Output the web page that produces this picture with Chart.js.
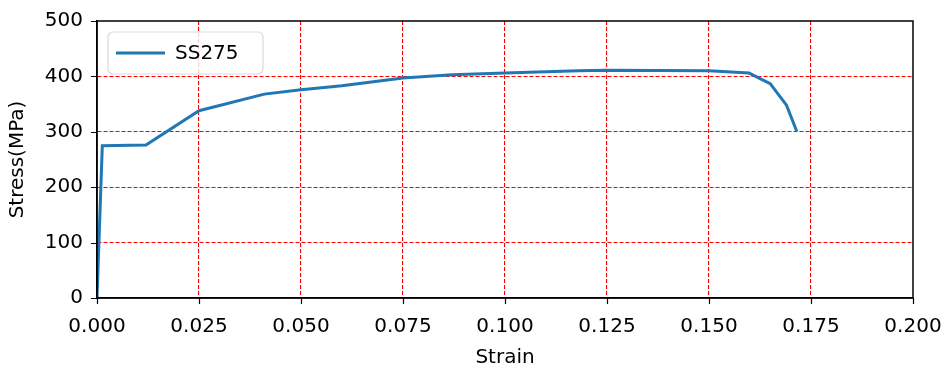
<!DOCTYPE html>
<html>
<head>
<meta charset="utf-8">
<script src="https://cdn.jsdelivr.net/npm/chart.js@4.4.1/dist/chart.umd.min.js"></script>
<style>
  html, body { margin: 0; padding: 0; background: #fff; }
  #wrap { width: 950px; height: 371px; }
</style>
</head>
<body>
<div id="wrap"><canvas id="chart" width="950" height="371"></canvas></div>
<script>
// stress-strain curve
const strain = [0, 0.0013, 0.012, 0.025, 0.041, 0.05, 0.06, 0.075, 0.087, 0.1, 0.118, 0.125, 0.15, 0.1598, 0.165, 0.169, 0.1715];
const stress = [0, 275, 276, 338, 368, 376, 383, 397, 403, 406, 410, 411, 410, 406, 387, 348, 301];
const seriesLabel = 'SS275';
const xTicks = [0, 0.025, 0.05, 0.075, 0.1, 0.125, 0.15, 0.175, 0.2];
const yTicks = [0, 100, 200, 300, 400, 500];

const FONT = 'DejaVu Sans, sans-serif';
const blue = '#1f77b4';
const TICK = 6;

// full box round the plot plus black outward tick marks
const frameBox = {
  id: 'frameBox',
  afterDraw(chart) {
    const { ctx, chartArea: a, scales } = chart;
    ctx.save();
    ctx.strokeStyle = '#000';
    ctx.lineWidth = 1.2;
    ctx.beginPath();
    xTicks.forEach((v) => {
      const px = Math.round(scales.x.getPixelForValue(v)) + 0.5;
      ctx.moveTo(px, a.bottom);
      ctx.lineTo(px, a.bottom + TICK);
    });
    yTicks.forEach((v) => {
      const py = Math.round(scales.y.getPixelForValue(v)) + 0.5;
      ctx.moveTo(a.left, py);
      ctx.lineTo(a.left - TICK, py);
    });
    ctx.stroke();
    ctx.lineWidth = 1.5;
    ctx.strokeRect(a.left, a.top, a.right - a.left, a.bottom - a.top);
    ctx.restore();
  },
};

// legend box in the upper left corner of the plot
const innerLegend = {
  id: 'innerLegend',
  afterDraw(chart) {
    const { ctx, chartArea: a } = chart;
    const ds = chart.data.datasets[0];
    const x = a.left + 11, y = a.top + 11, w = 155, h = 42, r = 5;
    ctx.save();
    ctx.beginPath();
    ctx.roundRect(x, y, w, h, r);
    ctx.fillStyle = 'rgba(255,255,255,0.8)';
    ctx.fill();
    ctx.strokeStyle = '#d9d9d9';
    ctx.lineWidth = 1.2;
    ctx.stroke();
    ctx.beginPath();
    ctx.moveTo(x + 8, y + h / 2);
    ctx.lineTo(x + 57, y + h / 2);
    ctx.strokeStyle = ds.borderColor;
    ctx.lineWidth = 3;
    ctx.stroke();
    ctx.fillStyle = '#000';
    ctx.font = '20px ' + FONT;
    ctx.textBaseline = 'middle';
    ctx.fillText(ds.label, x + 67, y + h / 2 + 1);
    ctx.restore();
  },
};

// no red grid line on the box edges, the spines sit there
const gridOpts = (count) => ({
  color: (c) => (c.index === 0 || c.index === count - 1 ? 'rgba(0,0,0,0)' : '#ff0000'),
  lineWidth: 1.1,
  drawTicks: false,
});

new Chart(document.getElementById('chart'), {
  type: 'scatter',
  data: {
    datasets: [
      {
        label: seriesLabel,
        data: strain.map((s, i) => ({ x: s, y: stress[i] })),
        showLine: true,
        borderColor: blue,
        backgroundColor: blue,
        borderWidth: 3,
        pointRadius: 0,
        tension: 0,
      },
    ],
  },
  options: {
    responsive: false,
    animation: false,
    layout: { padding: { left: 6, top: 21, right: 37, bottom: 1 } },
    plugins: { legend: { display: false }, tooltip: { enabled: false } },
    scales: {
      x: {
        type: 'linear',
        min: 0,
        max: 0.2,
        afterBuildTicks: (s) => { s.ticks = xTicks.map((v) => ({ value: v })); },
        afterFit: (s) => {
          s.height = 72;
          s.paddingLeft = 0;
          s.paddingRight = 0;
        },
        ticks: {
          color: '#000',
          font: { family: FONT, size: 20 },
          padding: 17,
          maxRotation: 0,
          callback: (v) => v.toFixed(3),
        },
        grid: gridOpts(xTicks.length),
        border: { color: '#000', width: 1.5, dash: [4, 2] },
        title: {
          display: true,
          text: 'Strain',
          color: '#000',
          font: { family: FONT, size: 20 },
          padding: { top: 0, bottom: 0 },
        },
      },
      y: {
        min: 0,
        max: 500,
        afterBuildTicks: (s) => { s.ticks = yTicks.map((v) => ({ value: v })); },
        afterFit: (s) => {
          s.width = 91;
          s.paddingTop = 0;
          s.paddingBottom = 0;
        },
        ticks: {
          color: '#000',
          font: { family: FONT, size: 20 },
          padding: 14,
        },
        grid: gridOpts(yTicks.length),
        border: { color: '#000', width: 1.5, dash: [4, 2] },
        title: {
          display: true,
          text: 'Stress(MPa)',
          color: '#000',
          font: { family: FONT, size: 20 },
          padding: { top: 0, bottom: 0 },
        },
      },
    },
  },
  plugins: [frameBox, innerLegend],
});
</script>
</body>
</html>
